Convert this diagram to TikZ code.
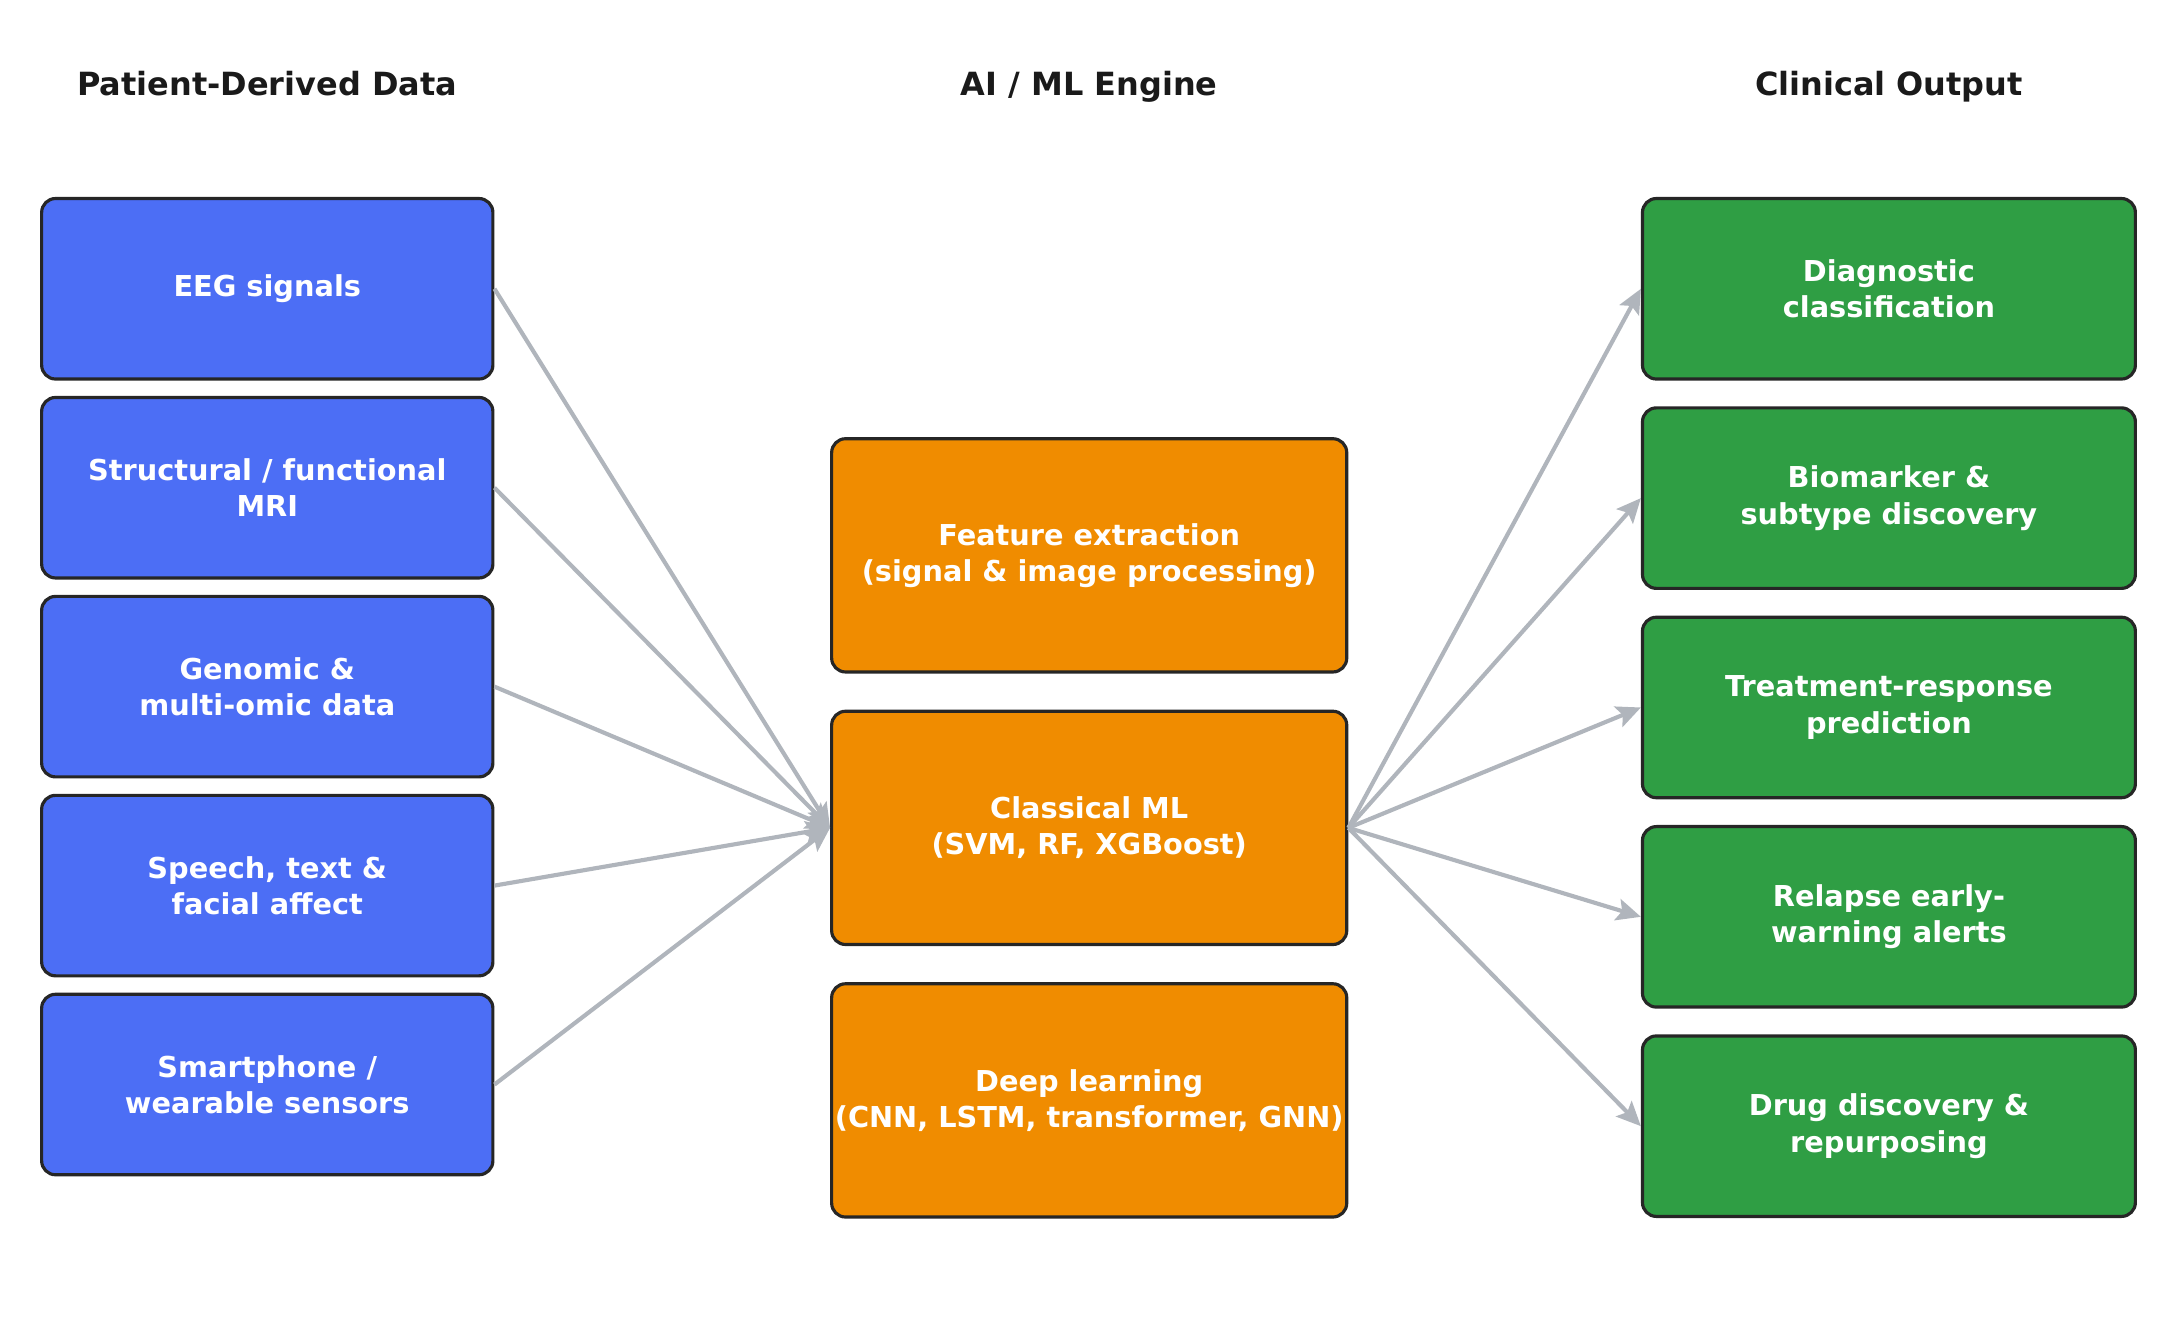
\documentclass[tikz,border=0pt]{standalone}
\usepackage{fontspec}
\setmainfont{DejaVu Sans}
\usetikzlibrary{arrows.meta, positioning}

\definecolor{srcblue}{HTML}{4C6EF5}
\definecolor{engorange}{HTML}{F08C00}
\definecolor{outgreen}{HTML}{2F9E44}
\definecolor{edgegray}{HTML}{B0B5BC}
\definecolor{boxline}{HTML}{262626}
\definecolor{titletext}{HTML}{1A1A1A}

\begin{document}
\begin{tikzpicture}[
        box/.style={draw=boxline, line width=1.3pt, rounded corners=0.2cm, text=white, align=center,
            font=\fontsize{11.8}{14.8}\selectfont\bfseries, inner sep=0pt},
        srcbox/.style={box, fill=srcblue, minimum width=6.5cm, minimum height=2.6cm},
        engbox/.style={box, fill=engorange, minimum width=7.42cm, minimum height=3.36cm},
        outbox/.style={box, fill=outgreen, minimum width=7.1cm, minimum height=2.6cm},
        hdr/.style={font=\fontsize{13.1}{15.7}\selectfont\bfseries, text=titletext, anchor=base},
        feed/.style={-{Stealth[length=10pt, width=9pt, inset=2pt]}, draw=edgegray, line width=1.7pt},
    ]
    \useasboundingbox (0, 0) rectangle (31.36, 19.34);
    % Column headers
    \node[hdr] (hdrSrc) at (3.85, 17.96) {Patient-Derived Data};
    \node[hdr] (hdrEng) at (15.69, 17.96) {AI / ML Engine};
    \node[hdr] (hdrOut) at (27.21, 17.96) {Clinical Output};
    % Patient-derived data
    \node[srcbox] (eeg) at (3.85, 15.18) {EEG signals};
    \node[srcbox, below=0.22cm of eeg] (mri) {Structural / functional\\MRI};
    \node[srcbox, below=0.22cm of mri] (omic) {Genomic \&\\multi-omic data};
    \node[srcbox, below=0.22cm of omic] (speech) {Speech, text \&\\facial affect};
    \node[srcbox, below=0.22cm of speech] (wear) {Smartphone /\\wearable sensors};
    % AI / ML engine
    \node[engbox] (feat) at (15.69, 11.34) {Feature extraction\\(signal \& image processing)};
    \node[engbox, below=0.52cm of feat] (classic) {Classical ML\\(SVM, RF, XGBoost)};
    \node[engbox, below=0.52cm of classic] (deep) {Deep learning\\(CNN, LSTM, transformer, GNN)};
    % Clinical output
    \node[outbox] (diag) at (27.21, 15.18) {Diagnostic\\classification};
    \node[outbox, below=0.37cm of diag] (biom) {Biomarker \&\\subtype discovery};
    \node[outbox, below=0.37cm of biom] (treat) {Treatment-response\\prediction};
    \node[outbox, below=0.37cm of treat] (relapse) {Relapse early-\\warning alerts};
    \node[outbox, below=0.37cm of relapse] (drug) {Drug discovery \&\\repurposing};
    % Inputs into the engine
    \draw[feed] (eeg.east) -- (classic.west);
    \draw[feed] (mri.east) -- (classic.west);
    \draw[feed] (omic.east) -- (classic.west);
    \draw[feed] (speech.east) -- (classic.west);
    \draw[feed] (wear.east) -- (classic.west);
    % Engine to outputs
    \draw[feed] (classic.east) -- (diag.west);
    \draw[feed] (classic.east) -- (biom.west);
    \draw[feed] (classic.east) -- (treat.west);
    \draw[feed] (classic.east) -- (relapse.west);
    \draw[feed] (classic.east) -- (drug.west);
\end{tikzpicture}
\end{document}
